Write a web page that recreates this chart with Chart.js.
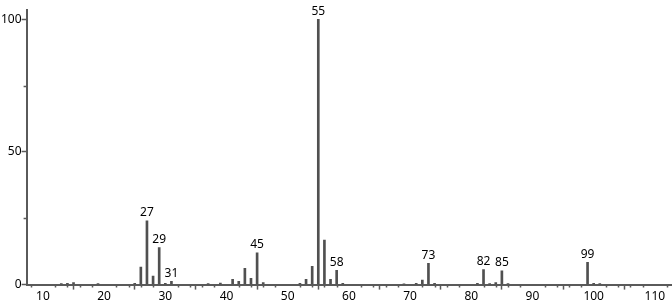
<!DOCTYPE html>
<html>
<head>
<meta charset="utf-8">
<script src="https://cdn.jsdelivr.net/npm/chart.js@4"></script>
<style>
  body { margin: 0; background: #fff; }
  #wrap { width: 672px; height: 304px; }
</style>
</head>
<body>
<div id="wrap"><canvas id="ms"></canvas></div>
<script>
const AXIS = '#5a5a5a';
const BAR  = '#505050';
const FONT = "'Noto Sans', sans-serif";

// m/z values and relative intensities
const mz        = [13, 14, 15, 19, 25, 26, 27, 28, 29, 30, 31, 37, 39, 41, 42, 43, 44, 45, 46, 52, 53, 54, 55, 56, 57, 58, 59, 69, 71, 72, 73, 74, 81, 82, 83, 84, 85, 86, 99, 100, 101];
const intensity = [0.4, 0.5, 0.8, 0.4, 0.5, 6.6, 24, 3.2, 14, 0.5, 1.2, 0.4, 0.6, 2.0, 1.2, 6.1, 2.4, 12, 0.8, 0.5, 2.0, 6.9, 100, 16.8, 2.0, 5.4, 0.5, 0.3, 0.5, 1.7, 8.0, 0.5, 0.5, 5.7, 0.4, 0.8, 5.2, 0.4, 8.4, 0.5, 0.4];
const labelled  = [27, 29, 31, 45, 55, 58, 73, 82, 85, 99];

const peakLabels = {
  id: 'peakLabels',
  afterDatasetsDraw(chart) {
    const { ctx, scales: { x, y } } = chart;
    ctx.save();
    ctx.font = '12px ' + FONT;
    ctx.fillStyle = '#000';
    ctx.textAlign = 'center';
    ctx.textBaseline = 'bottom';
    labelled.forEach(m => {
      const v = intensity[mz.indexOf(m)];
      ctx.fillText(String(m), x.getPixelForValue(m), y.getPixelForValue(v) - 2);
    });
    ctx.restore();
  }
};

// short minor ticks every 2 units under the x axis, 25/75 on y
const minorTicks = {
  id: 'minorTicks',
  afterDraw(chart) {
    const { ctx, scales: { x, y } } = chart;
    ctx.save();
    ctx.strokeStyle = AXIS;
    ctx.lineWidth = 1.5;
    ctx.beginPath();
    for (let v = 8; v <= 112; v += 2) {
      if (v % 10 === 0) continue;
      const px = Math.round(x.getPixelForValue(v)) + 0.5;
      ctx.moveTo(px, y.bottom);
      ctx.lineTo(px, y.bottom + 3);
    }
    [25, 75].forEach(v => {
      const py = Math.round(y.getPixelForValue(v)) + 0.5;
      ctx.moveTo(x.left, py);
      ctx.lineTo(x.left - 3, py);
    });
    ctx.stroke();
    ctx.restore();
  }
};

new Chart('ms', {
  type: 'bar',
  data: {
    datasets: [{
      data: mz.map((m, i) => ({ x: m, y: intensity[i] })),
      backgroundColor: BAR,
      barThickness: 2
    }]
  },
  options: {
    responsive: true,
    maintainAspectRatio: false,
    animation: false,
    layout: { padding: { top: 10, right: 0, left: 1, bottom: 0 } },
    plugins: { legend: { display: false }, tooltip: { enabled: false } },
    scales: {
      x: {
        type: 'linear',
        min: 7.33, max: 112.8,
        offset: false,
        grid: { drawOnChartArea: false, tickLength: 5, tickColor: AXIS, tickWidth: 1.5 },
        border: { color: AXIS, width: 2 },
        ticks: { stepSize: 10, includeBounds: false, color: '#000', padding: 0, font: { family: FONT, size: 12 } }
      },
      y: {
        min: 0, max: 103.5,
        grid: { drawOnChartArea: false, tickLength: 5, tickColor: AXIS, tickWidth: 1.5 },
        border: { color: AXIS, width: 2 },
        ticks: { stepSize: 50, includeBounds: false, color: '#000', padding: 0, font: { family: FONT, size: 12 } }
      }
    }
  },
  plugins: [peakLabels, minorTicks]
});
</script>
</body>
</html>
